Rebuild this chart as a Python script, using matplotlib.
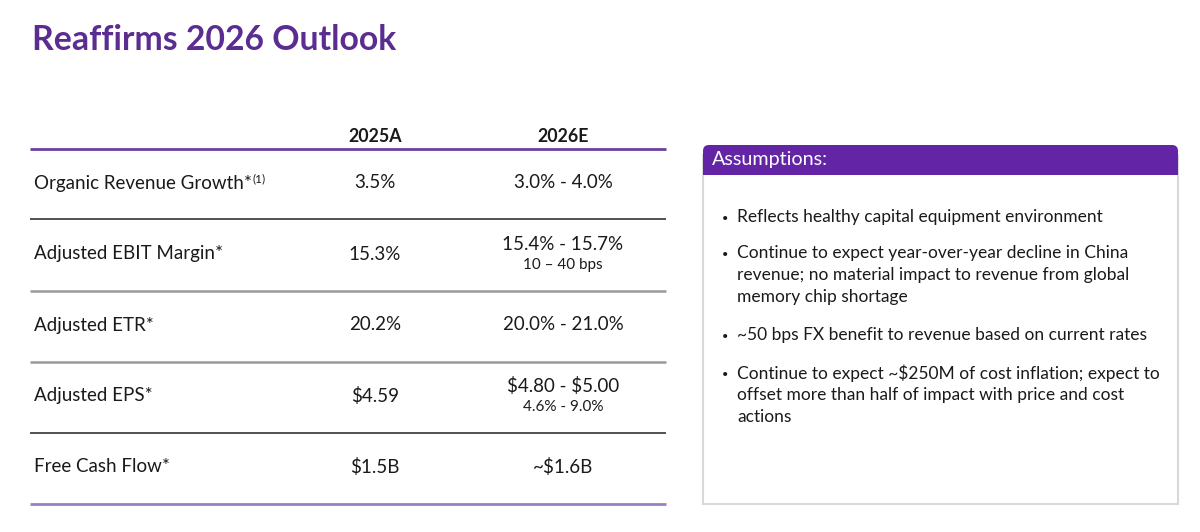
import matplotlib
matplotlib.use("Agg")
import matplotlib.pyplot as plt
from matplotlib.patches import FancyBboxPatch, Rectangle

title = "Reaffirms 2026 Outlook"
col_headers = ["2025A", "2026E"]
row_labels = ["Organic Revenue Growth*", "Adjusted EBIT Margin*", "Adjusted ETR*",
              "Adjusted EPS*", "Free Cash Flow*"]
row_label_sup = ["(1)", "", "", "", ""]
values_2025 = ["3.5%", "15.3%", "20.2%", "$4.59", "$1.5B"]
values_2026 = ["3.0% - 4.0%", "15.4% - 15.7%", "20.0% - 21.0%", "$4.80 - $5.00", "~$1.6B"]
sub_2026 = ["", "10 \u2013 40 bps", "", "4.6% - 9.0%", ""]
box_title = "Assumptions:"
assumptions = [
    ["Reflects healthy capital equipment environment"],
    ["Continue to expect year-over-year decline in China",
     "revenue; no material impact to revenue from global",
     "memory chip shortage"],
    ["~50 bps FX benefit to revenue based on current rates"],
    ["Continue to expect ~$250M of cost inflation; expect to",
     "offset more than half of impact with price and cost",
     "actions"],
]

FONT = ["Lato", "DejaVu Sans"]
PURPLE = "#5B2D90"
HEAD_PURPLE = "#6324A6"
TEXT = "#1a1a1a"

fig = plt.figure(figsize=(12, 5.32), dpi=100)
ax = fig.add_axes([0, 0, 1, 1])
ax.set_xlim(0, 1200)
ax.set_ylim(532, 0)
ax.axis("off")


def txt(x, y, s, **kw):
    kw.setdefault("family", FONT)
    kw.setdefault("color", TEXT)
    kw.setdefault("va", "center")
    return ax.text(x, y, s, parse_math=False, **kw)


txt(32, 40, title, fontsize=24.3, fontweight="bold", color=PURPLE, ha="left")

# Table
x0, x1 = 30, 666
cx1, cx2 = 375, 563
for h, cx in zip(col_headers, [cx1, cx2]):
    txt(cx, 137, h, fontsize=12.8, fontweight="bold", ha="center")

ax.plot([x0, x1], [149, 149], color="#6B3FA0", lw=2, solid_capstyle="butt")
row_centers = [183, 254, 325, 396, 467]
line_ys = [219, 291, 362, 433, 504]
line_cols = ["#222222", "#999999", "#999999", "#222222", "#9B7FC4"]
line_w = [1.1, 1.8, 1.8, 1.1, 2.0]

for i, lab in enumerate(row_labels):
    yc = row_centers[i]
    t = txt(34, yc, lab, fontsize=13.5, ha="left")
    if row_label_sup[i]:
        ax.annotate(row_label_sup[i], xy=(1, 1), xycoords=t, xytext=(0.5, 1),
                    textcoords="offset points", fontsize=8.5, color=TEXT,
                    family=FONT, ha="left", va="top")
    txt(cx1, yc, values_2025[i], fontsize=13.5, ha="center")
    if sub_2026[i]:
        txt(cx2, yc - 10, values_2026[i], fontsize=13.5, ha="center")
        txt(cx2, yc + 11, sub_2026[i], fontsize=11, ha="center")
    else:
        txt(cx2, yc, values_2026[i], fontsize=13.5, ha="center")
    ax.plot([x0, x1], [line_ys[i]] * 2, color=line_cols[i], lw=line_w[i],
            solid_capstyle="butt")

# Assumptions box
bx0, bx1, by0, by1 = 703, 1178, 145, 504
ax.add_patch(Rectangle((bx0, by0 + 10), bx1 - bx0, by1 - by0 - 10,
                       facecolor="white", edgecolor="#d9d9d9", lw=1.5, zorder=1))
ax.add_patch(FancyBboxPatch((bx0, by0), bx1 - bx0, 30,
                            boxstyle="round,pad=0,rounding_size=6",
                            facecolor=HEAD_PURPLE, edgecolor="none", zorder=2))
ax.add_patch(Rectangle((bx0, by0 + 18), bx1 - bx0, 12,
                       facecolor=HEAD_PURPLE, edgecolor="none", zorder=2))
txt(712, 160, box_title, fontsize=14.2, color="white", ha="left", zorder=3)

starts = [217, 253, 335, 373]
line_gap = 22
for s, lines in zip(starts, assumptions):
    txt(722, s + 1, "\u2022", fontsize=8, ha="left")
    for k, ln in enumerate(lines):
        txt(737, s + k * line_gap, ln, fontsize=12.5, ha="left")

fig.savefig("out.png", dpi=100, facecolor="white")
